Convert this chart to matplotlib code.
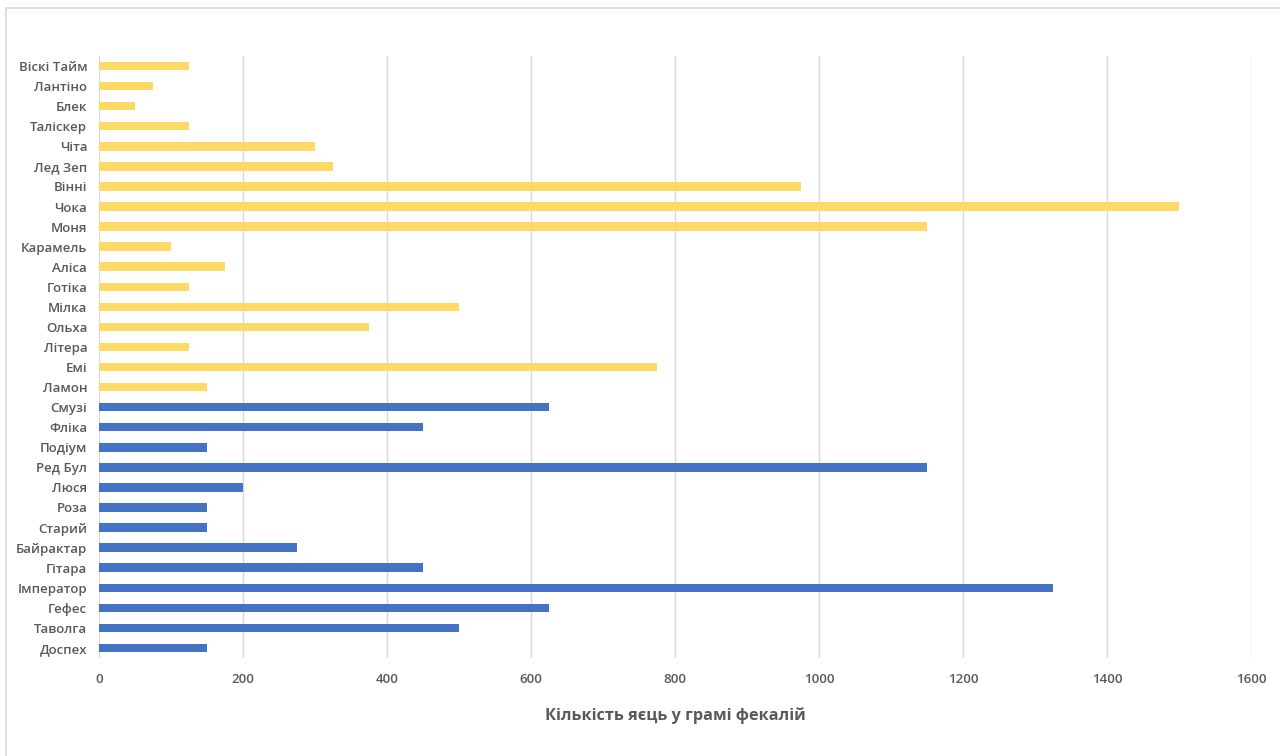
import matplotlib
matplotlib.use("Agg")
import matplotlib.pyplot as plt
from matplotlib.patches import Rectangle

# Categories listed top to bottom
names = ["Віскі Тайм", "Лантіно", "Блек", "Таліскер", "Чіта", "Лед Зеп", "Вінні",
         "Чока", "Моня", "Карамель", "Аліса", "Готіка", "Мілка", "Ольха", "Літера",
         "Емі", "Ламон", "Смузі", "Фліка", "Подіум", "Ред Бул", "Люся", "Роза",
         "Старий", "Байрактар", "Гітара", "Імператор", "Гефес", "Таволга", "Доспех"]
values = [125, 75, 50, 125, 300, 325, 975, 1500, 1150, 100, 175, 125, 500, 375, 125,
          775, 150, 625, 450, 150, 1150, 200, 150, 150, 275, 450, 1325, 625, 500, 150]
groups = ["y"] * 17 + ["b"] * 13
group_colors = {"y": "#FFD966", "b": "#4472C4"}
xticks = [0, 200, 400, 600, 800, 1000, 1200, 1400, 1600]
xlabel = "Кількість яєць у грамі фекалій"

plt.rcParams['font.family'] = ['Open Sans', 'DejaVu Sans']

fig = plt.figure(figsize=(12.8, 7.56), dpi=100)
ax = fig.add_axes([99/1280, 1 - 658/756, (1251 - 99)/1280, (658 - 56)/756])

ypos = list(range(len(names)))
ax.barh(ypos, values, height=0.42, color=[group_colors[g] for g in groups], zorder=3)
ax.set_ylim(len(names) - 0.5, -0.5)
ax.set_yticks(ypos)
ax.set_yticklabels(names, fontsize=9.5, fontweight='semibold', color='#595959')
ax.set_xlim(0, 1600)
ax.set_xticks(xticks)
ax.set_xticklabels([str(t) for t in xticks], fontsize=9.5, fontweight='semibold', color='#595959')
ax.tick_params(axis='y', length=0, pad=8.5)
ax.tick_params(axis='x', length=0, pad=11)
ax.grid(axis='x', color='#D9D9D9', linewidth=1, zorder=0)
for s in ax.spines.values():
    s.set_visible(False)
ax.set_xlabel(xlabel, fontsize=11.7, fontweight='bold', color='#595959', labelpad=15)

fig.patches.append(Rectangle((6/1280, -0.01), 1.05, 1 - 8/756 + 0.01, transform=fig.transFigure,
                             fill=False, edgecolor='#D9D9D9', linewidth=1.2))

fig.savefig("out.png", dpi=100)
